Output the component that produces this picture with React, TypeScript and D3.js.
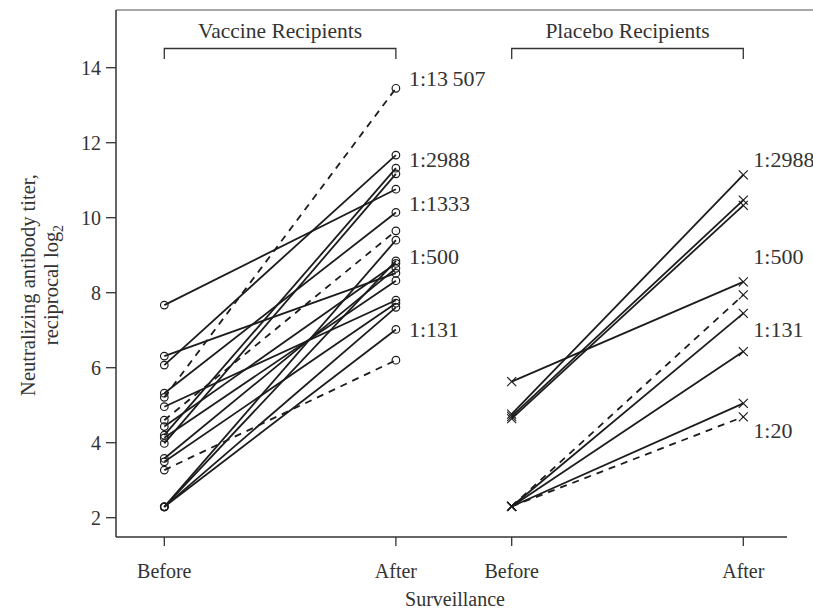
import React from "react";
import * as d3 from "d3";

// ---- data ----
const vaccineBefore = [7.67, 6.31, 6.07, 5.32, 5.21, 4.96, 4.6, 4.43, 4.2, 4.13, 3.98, 3.58, 3.49, 3.27, 2.29, 2.29, 2.29, 2.29];
const vaccineAfter = [10.76, 8.52, 11.67, 10.14, 13.45, 7.8, 9.65, 8.78, 11.32, 8.32, 11.17, 8.65, 7.72, 6.2, 9.4, 8.85, 7.61, 7.02];
const vaccineDashed = [false, false, false, false, true, false, true, false, false, false, false, false, false, true, false, false, false, false];

const placeboBefore = [5.63, 4.76, 4.7, 4.64, 2.3, 2.3, 2.3, 2.3, 2.3];
const placeboAfter = [8.29, 11.14, 10.47, 10.33, 7.94, 7.45, 6.43, 5.05, 4.69];
const placeboDashed = [false, false, false, false, true, false, false, false, true];

const vaccineTiters = [13507, 2988, 1333, 500, 131];
const vaccineTiterLabels = ["1:13\u2009507", "1:2988", "1:1333", "1:500", "1:131"];
const placeboTiters = [2988, 500, 131, 20];
const placeboTiterLabels = ["1:2988", "1:500", "1:131", "1:20"];

const yTicks = [2, 4, 6, 8, 10, 12, 14];
const timeLabels = ["Before", "After", "Before", "After"];
const timePositions = [0, 1, 1.5, 2.5];
const groupNames = ["Vaccine Recipients", "Placebo Recipients"];
const groupSpans = [[0, 1], [1.5, 2.5]];

const FONT = "'Liberation Serif', 'Times New Roman', serif";
const INK = "#1c1c1c";

export default function App() {
  const x = d3.scaleLinear().domain([0, 2.5]).range([164.3, 743.3]);
  const y = d3.scaleLinear().domain([2, 14]).range([517.7, 67.7]);

  const axisLeft = 116;
  const axisBottom = 537;
  const axisTop = 10;
  const axisRight = 787;

  const line = d3.line<[number, number]>().x((d) => d[0]).y((d) => d[1]);

  const vaccineLines = vaccineBefore.map((b, i) => ({
    b,
    a: vaccineAfter[i],
    dashed: vaccineDashed[i],
  }));
  const placeboLines = placeboBefore.map((b, i) => ({
    b,
    a: placeboAfter[i],
    dashed: placeboDashed[i],
  }));

  const cross = (cx: number, cy: number, s = 4.5) =>
    `M${cx - s},${cy - s}L${cx + s},${cy + s}M${cx - s},${cy + s}L${cx + s},${cy - s}`;

  return (
    <svg
      width={813}
      height={610}
      style={{ position: "absolute", left: 0, top: 0, display: "block", background: "#fff" }}
      fontFamily={FONT}
    >
      {/* frame */}
      <line x1={axisLeft} x2={813} y1={axisTop} y2={axisTop} stroke="#8a8a8a" strokeWidth={1.5} />
      <line x1={axisLeft} x2={axisLeft} y1={axisTop} y2={axisBottom} stroke="#333" strokeWidth={1.5} />
      <line x1={axisLeft} x2={axisRight} y1={axisBottom} y2={axisBottom} stroke="#333" strokeWidth={1.5} />

      {/* y ticks */}
      {yTicks.map((t) => (
        <g key={t}>
          <line x1={axisLeft - 10} x2={axisLeft} y1={y(t)} y2={y(t)} stroke="#333" strokeWidth={1.3} />
          <text x={axisLeft - 15} y={y(t)} dy="0.35em" textAnchor="end" fontSize={20} fill="#333">
            {t}
          </text>
        </g>
      ))}

      {/* x ticks */}
      {timePositions.map((p, i) => (
        <g key={i}>
          <line x1={x(p)} x2={x(p)} y1={axisBottom} y2={axisBottom + 9} stroke="#333" strokeWidth={1.3} />
          <text x={x(p)} y={578} textAnchor="middle" fontSize={20} fill="#333">
            {timeLabels[i]}
          </text>
        </g>
      ))}
      <text x={455} y={606} textAnchor="middle" fontSize={20} fill="#333">
        Surveillance
      </text>

      {/* y axis title */}
      <g transform="translate(35,285) rotate(-90)">
        <text x={0} y={0} textAnchor="middle" fontSize={20.5} fill="#333">
          Neutralizing antibody titer,
        </text>
        <text x={0} y={23} textAnchor="middle" fontSize={20.5} fill="#333">
          reciprocal log
          <tspan fontSize={14} dy={5}>2</tspan>
        </text>
      </g>

      {/* group brackets */}
      {groupNames.map((g, i) => {
        const x0 = x(groupSpans[i][0]);
        const x1 = x(groupSpans[i][1]);
        return (
          <g key={g}>
            <path
              d={`M${x0},59V48.5H${x1}V59`}
              fill="none"
              stroke="#333"
              strokeWidth={1.3}
            />
            <text x={(x0 + x1) / 2} y={38} textAnchor="middle" fontSize={21.5} fill="#333">
              {g}
            </text>
          </g>
        );
      })}

      {/* vaccine lines */}
      {vaccineLines.map((d, i) => (
        <path
          key={"vl" + i}
          d={line([[x(0), y(d.b)], [x(1), y(d.a)]]) || ""}
          stroke={INK}
          strokeWidth={1.8}
          fill="none"
          strokeDasharray={d.dashed ? "7,6" : undefined}
        />
      ))}
      {vaccineLines.map((d, i) => (
        <g key={"vm" + i}>
          <circle cx={x(0)} cy={y(d.b)} r={3.8} fill="none" stroke={INK} strokeWidth={1.2} />
          <circle cx={x(1)} cy={y(d.a)} r={3.8} fill="none" stroke={INK} strokeWidth={1.2} />
        </g>
      ))}

      {/* placebo lines */}
      {placeboLines.map((d, i) => (
        <path
          key={"pl" + i}
          d={line([[x(1.5), y(d.b)], [x(2.5), y(d.a)]]) || ""}
          stroke={INK}
          strokeWidth={1.8}
          fill="none"
          strokeDasharray={d.dashed ? "7,6" : undefined}
        />
      ))}
      {placeboLines.map((d, i) => (
        <g key={"pm" + i}>
          <path d={cross(x(1.5), y(d.b))} stroke={INK} strokeWidth={1.2} fill="none" />
          <path d={cross(x(2.5), y(d.a))} stroke={INK} strokeWidth={1.2} fill="none" />
        </g>
      ))}

      {/* titer labels */}
      {vaccineTiters.map((t, i) => (
        <text key={"vt" + i} x={x(1) + 13} y={y(Math.log2(t))} dy="0.35em" fontSize={22} fill="#333">
          {vaccineTiterLabels[i]}
        </text>
      ))}
      {placeboTiters.map((t, i) => (
        <text key={"pt" + i} x={x(2.5) + 10} y={y(Math.log2(t))} dy="0.35em" fontSize={22} fill="#333">
          {placeboTiterLabels[i]}
        </text>
      ))}
    </svg>
  );
}
